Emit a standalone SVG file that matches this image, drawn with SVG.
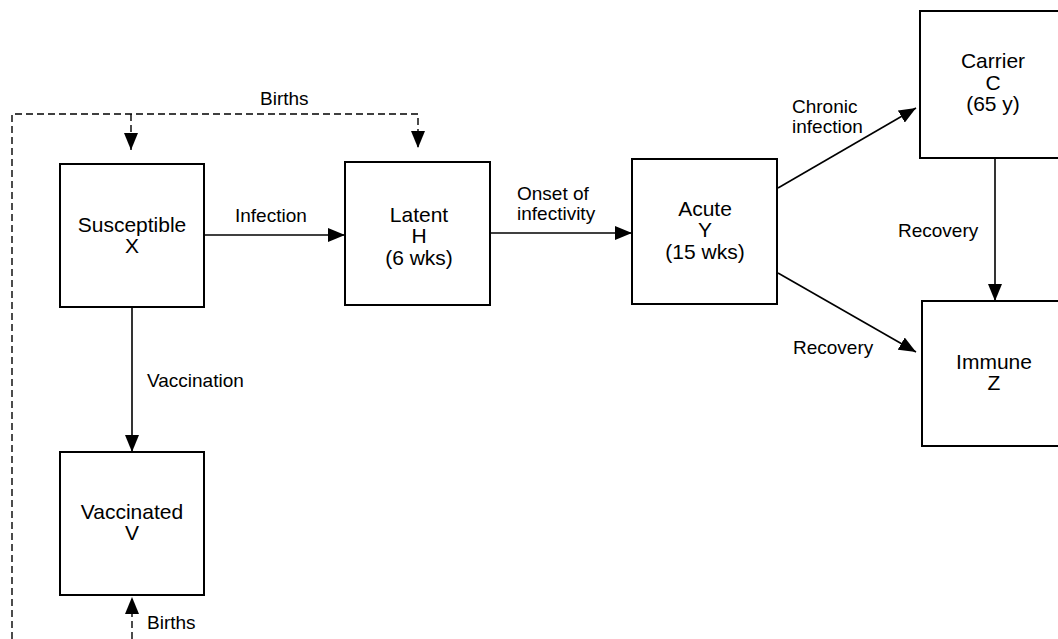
<svg xmlns="http://www.w3.org/2000/svg" width="1058" height="639" viewBox="0 0 1058 639">
<style>
.box{fill:#fff;stroke:#000;stroke-width:2}
.edge{fill:none;stroke:#000;stroke-width:1.6}
.dash{fill:none;stroke:#000;stroke-width:1.4;stroke-dasharray:7 4}
.nt{font-family:"Liberation Sans",Arial,sans-serif;font-size:21px;text-anchor:middle;fill:#000}
.et{font-family:"Liberation Sans",Arial,sans-serif;font-size:19px;fill:#000}
</style>
<defs>
<marker id="ah" markerUnits="userSpaceOnUse" markerWidth="18" markerHeight="14" refX="17" refY="7" orient="auto">
<path d="M0,0 L17,7 L0,14 Z" fill="#000"/>
</marker>
</defs>
<rect width="1058" height="639" fill="#fff"/>
<g id="connectors">
<path class="dash" d="M12,639 V114 H418 V148" marker-end="url(#ah)"/>
<path class="dash" d="M131,114 V150" marker-end="url(#ah)"/>
<path class="dash" d="M132,639 V597" marker-end="url(#ah)"/>
<line class="edge" x1="204" y1="235" x2="345" y2="235" marker-end="url(#ah)"/>
<line class="edge" x1="490" y1="233" x2="632" y2="233" marker-end="url(#ah)"/>
<line class="edge" x1="132" y1="307" x2="132" y2="452" marker-end="url(#ah)"/>
<line class="edge" x1="778" y1="188" x2="916" y2="108" marker-end="url(#ah)"/>
<line class="edge" x1="778" y1="273" x2="916" y2="352" marker-end="url(#ah)"/>
<line class="edge" x1="995" y1="158" x2="995" y2="301" marker-end="url(#ah)"/>
<text class="et" x="260" y="105">Births</text>
<text class="et" x="235" y="222">Infection</text>
<text class="et" x="517" y="200">Onset of</text>
<text class="et" x="517" y="220">infectivity</text>
<text class="et" x="792" y="113">Chronic</text>
<text class="et" x="792" y="133">infection</text>
<text class="et" x="898" y="237">Recovery</text>
<text class="et" x="793" y="354">Recovery</text>
<text class="et" x="147" y="387">Vaccination</text>
<text class="et" x="147" y="629">Births</text>
</g>
<g id="susceptible">
<rect class="box" x="60" y="164" width="144" height="143"/>
<text class="nt" x="132" y="232">Susceptible</text>
<text class="nt" x="132" y="253">X</text>
</g>
<g id="latent">
<rect class="box" x="345" y="162" width="145" height="143"/>
<text class="nt" x="419" y="222">Latent</text>
<text class="nt" x="419" y="243">H</text>
<text class="nt" x="419" y="265">(6 wks)</text>
</g>
<g id="acute">
<rect class="box" x="632" y="159" width="145" height="145"/>
<text class="nt" x="705" y="216">Acute</text>
<text class="nt" x="705" y="237">Y</text>
<text class="nt" x="705" y="259">(15 wks)</text>
</g>
<g id="carrier">
<rect class="box" x="920" y="11" width="150" height="147"/>
<text class="nt" x="993" y="68">Carrier</text>
<text class="nt" x="993" y="90">C</text>
<text class="nt" x="993" y="111">(65 y)</text>
</g>
<g id="immune">
<rect class="box" x="922" y="301" width="150" height="145"/>
<text class="nt" x="994" y="369">Immune</text>
<text class="nt" x="994" y="390">Z</text>
</g>
<g id="vaccinated">
<rect class="box" x="60" y="452" width="144" height="143"/>
<text class="nt" x="132" y="519">Vaccinated</text>
<text class="nt" x="132" y="540">V</text>
</g>
</svg>
